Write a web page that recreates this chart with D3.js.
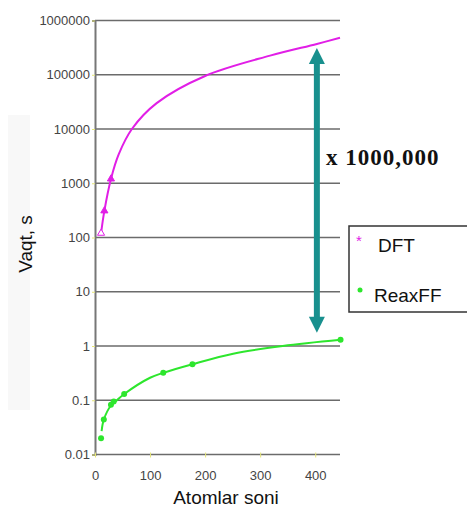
<!DOCTYPE html>
<html lang="en">
<head>
<meta charset="utf-8">
<title>DFT vs ReaxFF</title>
<style>
body { margin: 0; background: #fff; font-family: "Liberation Sans", Arial, sans-serif; }
.grid line { stroke: #6b6b6b; stroke-width: 1.5; }
.tick text { fill: #444; font-size: 13px; }
</style>
</head>
<body>
<script src="https://d3js.org/d3.v7.min.js"></script>
<script>

// atoms count vs time (s)
var yTicks = [0.01, 0.1, 1, 10, 100, 1000, 10000, 100000, 1000000];
var xTicks = [0, 100, 200, 300, 400];

var dftMarkers = [[11, 120], [17, 310], [29, 1200]];
var dftFit = [[11, 120], [17, 310], [29, 1200], [43, 3400], [67, 10000], [112, 30000],
              [200, 95000], [318, 225000], [403, 370000], [445, 480000]];

var reaxMarkers = [[11, 0.02], [16, 0.044], [29, 0.083], [34, 0.095], [53, 0.13],
                   [124, 0.32], [177, 0.46], [446, 1.3]];
var reaxFit = [[12, 0.027], [16, 0.044], [29, 0.08], [40, 0.1], [53, 0.13], [100, 0.26],
               [124, 0.32], [177, 0.46], [251, 0.72], [341, 1.0], [446, 1.3]];

var arrowX = 403, arrowTop = 310000, arrowBottom = 1.75;

var width = 467, height = 509;

var x = d3.scaleLinear().domain([0, 445]).range([95, 340]);
var y = d3.scaleLog().domain([0.01, 1000000]).range([454.5, 20.5]);

var svg = d3.select("body").append("svg")
    .attr("width", width)
    .attr("height", height);

// faint scan artifact at the left
svg.append("rect")
    .attr("x", 8).attr("y", 115).attr("width", 22).attr("height", 295)
    .attr("fill", "#f8f8f8");

// grid lines
svg.append("g")
    .attr("class", "grid")
    .selectAll("line")
    .data(yTicks)
    .join("line")
    .attr("x1", x(0)).attr("x2", x(445))
    .attr("y1", d => y(d)).attr("y2", d => y(d));

// y axis
var yAxis = svg.append("g")
    .attr("transform", "translate(" + x(0) + ",0)")
    .call(d3.axisLeft(y).tickValues(yTicks).tickSize(3).tickPadding(2));
yAxis.select(".domain").attr("stroke", "#777").attr("stroke-width", 2);
yAxis.selectAll(".tick line").attr("stroke", "#e6e67a");
yAxis.selectAll(".tick text").text(d => d >= 1 ? d3.format("d")(d) : d3.format("~g")(d));

// x axis
var xAxis = svg.append("g")
    .attr("transform", "translate(0," + y(0.01) + ")")
    .call(d3.axisBottom(x).tickValues(xTicks).tickSize(3).tickPadding(13));
xAxis.select(".domain").remove();
xAxis.selectAll(".tick line").attr("stroke", "#e6e67a").attr("y1", -2);

// axis titles
svg.append("text")
    .attr("transform", "translate(32,244) rotate(-90)")
    .attr("text-anchor", "middle")
    .style("font-size", "19px")
    .attr("fill", "#111")
    .text("Vaqt, s");

svg.append("text")
    .attr("x", 226).attr("y", 504)
    .attr("text-anchor", "middle")
    .style("font-size", "19px")
    .attr("fill", "#111")
    .text("Atomlar soni");

var line = d3.line()
    .x(d => x(d[0]))
    .y(d => y(d[1]))
    .curve(d3.curveCatmullRom.alpha(0.5));

var magenta = "#e11ee6", green = "#2de62d", teal = "#18908e";

svg.append("path")
    .attr("d", line(dftFit))
    .attr("fill", "none")
    .attr("stroke", magenta)
    .attr("stroke-width", 2);

svg.append("path")
    .attr("d", line(reaxFit))
    .attr("fill", "none")
    .attr("stroke", green)
    .attr("stroke-width", 2);

var tri = d3.symbol().type(d3.symbolTriangle).size(22);
svg.selectAll(".dft")
    .data(dftMarkers)
    .join("path")
    .attr("transform", d => "translate(" + x(d[0]) + "," + y(d[1]) + ")")
    .attr("d", tri)
    .attr("fill", (d, i) => i === 0 ? "#fff" : magenta)
    .attr("stroke", magenta)
    .attr("stroke-width", 1);

svg.selectAll(".reax")
    .data(reaxMarkers)
    .join("circle")
    .attr("cx", d => x(d[0]))
    .attr("cy", d => y(d[1]))
    .attr("r", 3)
    .attr("fill", green);

// double arrow
var ax = x(arrowX), yt = y(arrowTop), yb = y(arrowBottom);
svg.append("line")
    .attr("x1", ax).attr("x2", ax)
    .attr("y1", yt + 12).attr("y2", yb - 12)
    .attr("stroke", teal)
    .attr("stroke-width", 6);
svg.append("path")
    .attr("d", "M" + ax + "," + yt + "L" + (ax + 8) + "," + (yt + 16) + "L" + (ax - 8) + "," + (yt + 16) + "Z")
    .attr("fill", teal);
svg.append("path")
    .attr("d", "M" + ax + "," + yb + "L" + (ax + 8) + "," + (yb - 16) + "L" + (ax - 8) + "," + (yb - 16) + "Z")
    .attr("fill", teal);

svg.append("text")
    .attr("x", 326).attr("y", 165)
    .style("font-family", "'Liberation Serif', 'Times New Roman', serif")
    .style("font-weight", "bold")
    .style("font-size", "23px")
    .style("letter-spacing", "1px")
    .attr("fill", "#111")
    .text("x 1000,000");

// legend
var legend = svg.append("g");
legend.append("rect")
    .attr("x", 349).attr("y", 226)
    .attr("width", 130).attr("height", 86)
    .attr("fill", "#fff")
    .attr("stroke", "#333")
    .attr("stroke-width", 1.5);

legend.append("text")
    .attr("x", 359).attr("y", 246)
    .attr("text-anchor", "middle")
    .style("font-size", "15px")
    .attr("fill", magenta)
    .text("*");
legend.append("text")
    .attr("x", 378).attr("y", 252)
    .style("font-size", "19px")
    .attr("fill", "#111")
    .text("DFT");

legend.append("circle")
    .attr("cx", 360).attr("cy", 290).attr("r", 2.5)
    .attr("fill", green);
legend.append("text")
    .attr("x", 374).attr("y", 302)
    .style("font-size", "19px")
    .attr("fill", "#111")
    .text("ReaxFF");

</script>
</body>
</html>
